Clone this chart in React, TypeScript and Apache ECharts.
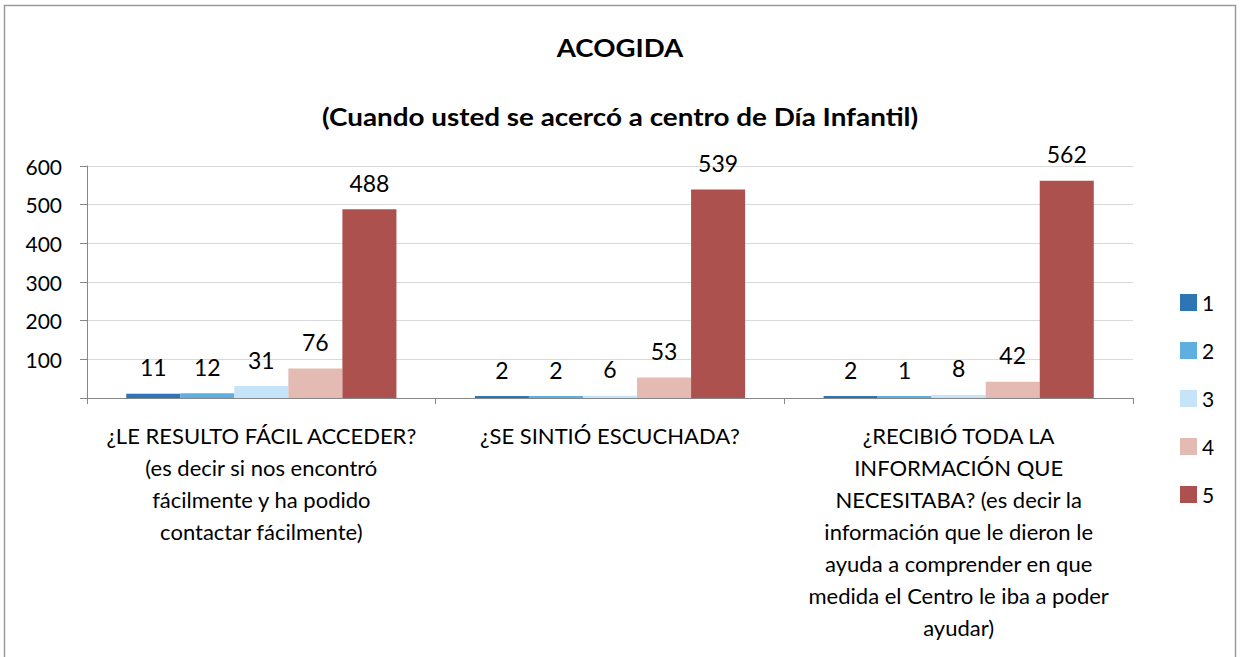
import React, { useEffect, useRef } from "react";
import * as echarts from "echarts";

const categories = [
  "¿LE RESULTO FÁCIL ACCEDER?\n(es decir si nos encontró\nfácilmente y ha podido\ncontactar fácilmente)",
  "¿SE SINTIÓ ESCUCHADA?",
  "¿RECIBIÓ TODA LA\nINFORMACIÓN QUE\nNECESITABA? (es decir la\ninformación que le dieron le\nayuda a comprender en que\nmedida el Centro le iba a poder\nayudar)",
];
const seriesNames = ["1", "2", "3", "4", "5"];
const values1 = [11, 2, 2];
const values2 = [12, 2, 1];
const values3 = [31, 6, 8];
const values4 = [76, 53, 42];
const values5 = [488, 539, 562];
const colors = ["#2E75B6", "#5FAEE0", "#C5E4FA", "#E3BBB2", "#AD514F"];
const titleText = "ACOGIDA";
const subtitleText = "(Cuando usted se acercó a centro de Día Infantil)";

const FONT = "Lato, 'Liberation Sans', sans-serif";

export default function App() {
  const ref = useRef<HTMLDivElement>(null);
  useEffect(() => {
    document.body.style.margin = "0";
    if (!ref.current) return;
    const chart = echarts.init(ref.current, null, { renderer: "svg" });
    const allValues = [values1, values2, values3, values4, values5];
    chart.setOption({
      animation: false,
      backgroundColor: "#ffffff",
      textStyle: { fontFamily: FONT },
      grid: { left: 87, right: 107, top: 166, bottom: 259, containLabel: false },
      graphic: [
        {
          type: "rect",
          shape: { x: 4.5, y: 5.5, width: 1231, height: 700 },
          style: { fill: "none", stroke: "#9a9a9a", lineWidth: 1.5 },
          silent: true,
        },
        {
          type: "text",
          x: 620,
          y: 48,
          scaleX: 1.15,
          style: {
            text: titleText,
            textAlign: "center",
            textVerticalAlign: "middle",
            font: `bold 24px ${FONT}`,
            fill: "#000",
          },
        },
        {
          type: "text",
          x: 620,
          y: 117,
          scaleX: 1.16,
          style: {
            text: subtitleText,
            textAlign: "center",
            textVerticalAlign: "middle",
            font: `bold 24px ${FONT}`,
            fill: "#000",
          },
        },
      ],
      legend: {
        orient: "vertical",
        left: 1175,
        top: 287,
        itemWidth: 17,
        itemHeight: 17,
        itemGap: 27,
        icon: "rect",
        textStyle: { fontSize: 21, color: "#000", fontFamily: FONT },
        data: seriesNames,
      },
      xAxis: {
        type: "category",
        data: categories,
        axisLine: { show: true, lineStyle: { color: "#868686" } },
        axisTick: { show: true, length: 6, lineStyle: { color: "#868686" } },
        axisLabel: {
          interval: 0,
          margin: 21,
          fontSize: 22,
          lineHeight: 32,
          color: "#000",
          fontFamily: FONT,
          align: "center",
        },
      },
      yAxis: {
        type: "value",
        min: 0,
        max: 600,
        interval: 100,
        axisLine: { show: true, lineStyle: { color: "#868686" } },
        axisTick: { show: true, length: 7, lineStyle: { color: "#868686" } },
        splitLine: { show: true, lineStyle: { color: "#d9d9d9" } },
        axisLabel: {
          margin: 25,
          fontSize: 21,
          color: "#000",
          fontFamily: FONT,
          formatter: (v: number) => (v === 0 ? "" : String(v)),
        },
      },
      series: seriesNames.map((name, i) => ({
        name,
        type: "bar",
        data: allValues[i],
        barGap: "0%",
        barCategoryGap: "22.5%",
        barMinHeight: 2,
        itemStyle: { color: colors[i] },
        label: {
          show: true,
          position: "top",
          distance: 15,
          fontSize: 23,
          color: "#000",
          fontFamily: FONT,
        },
      })),
    });
    return () => chart.dispose();
  }, []);
  return <div ref={ref} style={{ width: 1240, height: 657 }} />;
}
